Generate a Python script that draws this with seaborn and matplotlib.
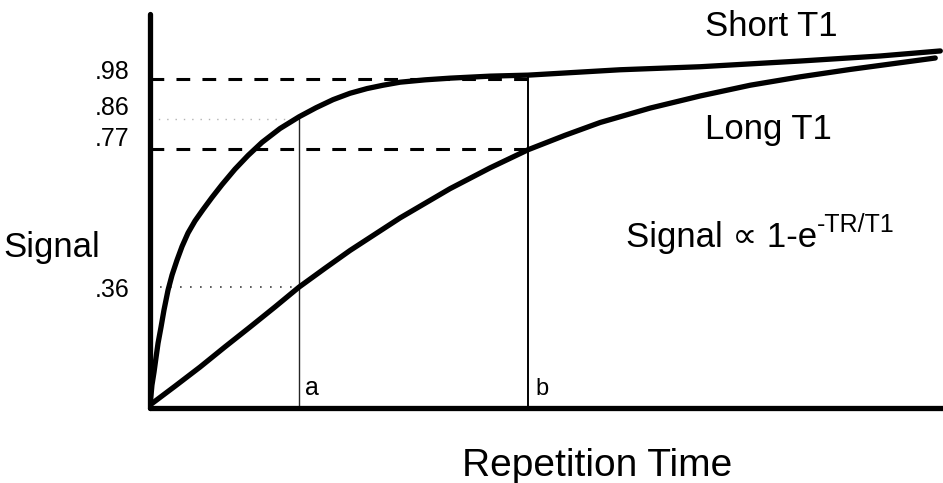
import matplotlib
matplotlib.use('Agg')
import matplotlib.pyplot as plt
import seaborn as sns
from matplotlib.transforms import ScaledTranslation

# Curves (TR in units of the "a" time, signal as fraction)
tr_short = [0.0, 0.007, 0.013, 0.027, 0.040, 0.054, 0.074, 0.094, 0.121, 0.148,
            0.181, 0.215, 0.255, 0.302, 0.356, 0.416, 0.483, 0.570, 0.658, 0.752,
            0.872, 1.0, 1.114, 1.228, 1.342, 1.456, 1.564, 1.678, 1.846, 2.013,
            2.282, 2.537, 3.154, 3.691, 4.362, 4.899, 5.302]
sig_short = [0.009, 0.039, 0.068, 0.107, 0.149, 0.193, 0.241, 0.292, 0.351, 0.396,
             0.440, 0.481, 0.521, 0.557, 0.591, 0.627, 0.665, 0.711, 0.752, 0.791,
             0.832, 0.867, 0.894, 0.918, 0.937, 0.951, 0.961, 0.970, 0.977, 0.982,
             0.988, 0.991, 1.007, 1.016, 1.033, 1.048, 1.063]

tr_long = [0.0, 0.168, 0.336, 0.503, 0.671, 0.839, 1.0, 1.174, 1.342, 1.678,
           2.013, 2.282, 2.537, 2.785, 3.02, 3.356, 3.691, 4.027, 4.362, 4.698,
           4.899, 5.268]
sig_long = [0.009, 0.065, 0.122, 0.182, 0.241, 0.301, 0.36, 0.416, 0.469, 0.566,
            0.653, 0.715, 0.769, 0.812, 0.850, 0.893, 0.929, 0.961, 0.986, 1.008,
            1.02, 1.042]

tr_a = 1.0
tr_b = 2.537
levels = [0.36, 0.77, 0.86, 0.98]
level_labels = ['.36', '.77', '.86', '.98']

sns.set_theme(style='white')
plt.rcParams['font.family'] = ['Liberation Sans', 'DejaVu Sans']
plt.rcParams['text.color'] = 'black'

fig = plt.figure(figsize=(9.43, 4.83), dpi=100)
ax = fig.add_axes([150 / 943, 75 / 483, 793 / 943, 394 / 483])

# guide lines
ax.plot([0, tr_b], [0.98, 0.98], color='black', lw=2.2, ls=(0, (4.5, 4)))
ax.plot([0, tr_b], [0.77, 0.77], color='black', lw=2.2, ls=(0, (4.5, 4)))
ax.plot([0, tr_a], [0.86, 0.86], color='0.7', lw=1.0, ls=(0, (1, 5)))
ax.plot([0, tr_a], [0.36, 0.36], color='0.25', lw=1.2, ls=(0, (1, 5)))
ax.plot([tr_a, tr_a], [0, 0.87], color='0.15', lw=1.0)
ax.plot([tr_b, tr_b], [0, 0.991], color='black', lw=1.4)

# the two recovery curves
sns.lineplot(x=tr_short, y=sig_short, ax=ax, color='black', lw=3.8,
             sort=False, estimator=None, solid_capstyle='round', solid_joinstyle='round')
sns.lineplot(x=tr_long, y=sig_long, ax=ax, color='black', lw=3.8,
             sort=False, estimator=None, solid_capstyle='round', solid_joinstyle='round')

ax.set_xlim(0, 5.32)
ax.set_ylim(0, 1.173)
sns.despine(ax=ax)
for side in ['left', 'bottom']:
    ax.spines[side].set_linewidth(3.8)
    ax.spines[side].set_color('black')
    ax.spines[side].set_capstyle('round')

ax.set_xticks([])
ax.set_yticks(levels)
ax.set_yticklabels(level_labels, fontsize=18)
ax.tick_params(axis='y', length=0, pad=15, labelcolor='black')
shifts = {'.36': 0, '.77': 9.5, '.86': 10, '.98': 6.5}
for lab in ax.get_yticklabels():
    dy = shifts.get(lab.get_text(), 0) / 72
    lab.set_transform(lab.get_transform() + ScaledTranslation(0, dy, fig.dpi_scale_trans))

ax.text(tr_a + 0.04, 0.04, 'a', fontsize=18, ha='left', va='baseline')
ax.text(tr_b + 0.05, 0.04, 'b', fontsize=17, ha='left', va='baseline')

ax.text(4.17, 1.137, 'Short T1', fontsize=25, ha='center', va='center')
ax.text(4.15, 0.83, 'Long T1', fontsize=25, ha='center', va='center')
formula = ax.text(3.19, 0.479, 'Signal \u221d 1-e', fontsize=25, ha='left', va='baseline')
ax.annotate('-TR/T1', xy=(1.0, 1.0), xycoords=formula, xytext=(0.5, 6),
            textcoords='offset points', fontsize=18, ha='left', va='top')

fig.text(3 / 943, 1 - 247 / 483, 'Signal', fontsize=25, ha='left', va='center')
fig.text(597 / 943, 1 - 466 / 483, 'Repetition Time', fontsize=28, ha='center', va='center')

fig.savefig('out.png', dpi=100)
